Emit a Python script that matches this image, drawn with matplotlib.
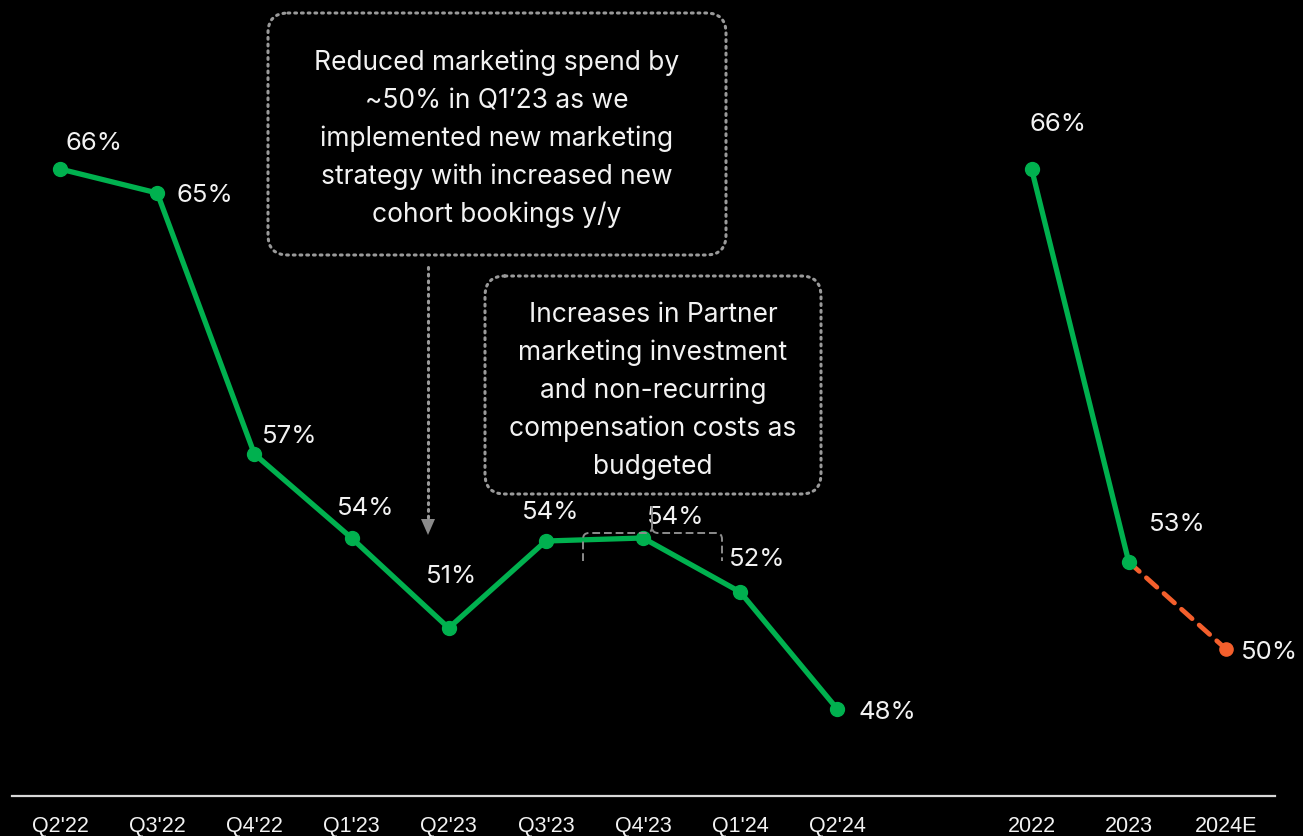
import matplotlib
matplotlib.use("Agg")
import matplotlib.pyplot as plt
from matplotlib import font_manager
from matplotlib.path import Path
from matplotlib.patches import FancyBboxPatch, PathPatch, Polygon

# ---------------- data ----------------
quarters = ["Q2'22", "Q3'22", "Q4'22", "Q1'23", "Q2'23", "Q3'23", "Q4'23", "Q1'24", "Q2'24"]
quarter_values = [66.0, 65.2, 56.5, 53.7, 50.7, 53.6, 53.7, 51.9, 48.0]
quarter_labels = ["66%", "65%", "57%", "54%", "51%", "54%", "54%", "52%", "48%"]

years = ["2022", "2023", "2024E"]
year_values = [66.0, 52.9, 50.0]
year_labels = ["66%", "53%", "50%"]

note1 = ["Reduced marketing spend by", "~50% in Q1\u201923 as we",
         "implemented new marketing", "strategy with increased new",
         "cohort bookings y/y"]
note2 = ["Increases in Partner", "marketing investment", "and non-recurring",
         "compensation costs as", "budgeted"]

# ---------------- style ----------------
GREEN = "#00b14f"
ORANGE = "#f45f2c"
TEXT = "#f2f2f2"
GRAY = "#9a9a9a"
W, H = 1303, 837

avail = {f.name for f in font_manager.fontManager.ttflist}
ann_font = "Inter" if "Inter" in avail else "DejaVu Sans"
tick_font, tick_size = "Liberation Sans", 15.5

fig = plt.figure(figsize=(W / 100, H / 100), dpi=100, facecolor="black")
ax = fig.add_axes([11.5 / W, 40 / H, 1263 / W, 1 - 40 / H])
ax.set_facecolor("black")

xq = list(range(len(quarters)))
xy = [len(quarters) + 1 + i for i in range(len(years))]

ax.plot(xq, quarter_values, color=GREEN, lw=3.8, marker="o", ms=10, zorder=3,
        solid_capstyle="round")
ax.plot(xy[:2], year_values[:2], color=GREEN, lw=3.8, marker="o", ms=10, zorder=3)
ax.plot(xy[1:], year_values[1:], color=ORANGE, lw=3.4, ls=(0, (3.0, 2.0)), zorder=2,
        dash_capstyle="round")
ax.plot([xy[2]], [year_values[2]], color=ORANGE, marker="o", ms=9.5, zorder=3)

ax.set_xlim(-0.5, 12.5)
ax.set_ylim(45.1, 71.667)

LBL = 18.5
q_off = [(34, 27), (48, -1), (35, 19), (14, 31), (3, 53), (5, 30), (33, 22), (17, 34), (50, -2)]
for x, v, lab, (dx, dy) in zip(xq, quarter_values, quarter_labels, q_off):
    ax.annotate(lab, (x, v), xytext=(dx, dy), textcoords="offset pixels",
                ha="center", va="center", color=TEXT, fontsize=LBL, family=ann_font)
y_off = [(26, 46), (49, 39), (44, -2)]
for x, v, lab, (dx, dy) in zip(xy, year_values, year_labels, y_off):
    ax.annotate(lab, (x, v), xytext=(dx, dy), textcoords="offset pixels",
                ha="center", va="center", color=TEXT, fontsize=LBL, family=ann_font)

ax.set_xticks(xq + xy)
ax.set_xticklabels(quarters + years, fontsize=tick_size, family=tick_font, color=TEXT)
ax.tick_params(axis="x", length=0, pad=14)
ax.set_yticks([])
for s in ["top", "left", "right"]:
    ax.spines[s].set_visible(False)
ax.spines["bottom"].set_color("#d8d8d8")
ax.spines["bottom"].set_linewidth(1.6)

# ---------------- overlay in pixel coordinates for annotations ----------------
ov = fig.add_axes([0, 0, 1, 1], facecolor="none")
ov.set_xlim(0, W)
ov.set_ylim(H, 0)
ov.axis("off")

def dotted_box(x0, y0, x1, y1):
    p = FancyBboxPatch((x0, y0), x1 - x0, y1 - y0,
                       boxstyle="round,pad=0,rounding_size=20",
                       fill=False, ec=GRAY, lw=2.2, ls=(0, (0.6, 1.6)),
                       capstyle="round")
    ov.add_patch(p)

NOTE = 19
dotted_box(268, 14, 726, 256)
for i, line in enumerate(note1):
    ov.text(497, 63 + i * 38, line, ha="center", va="center", color=TEXT,
            fontsize=NOTE, family=ann_font)

dotted_box(485, 277, 821, 495)
for i, line in enumerate(note2):
    ov.text(653, 315 + i * 38, line, ha="center", va="center", color=TEXT,
            fontsize=NOTE, family=ann_font)

# dotted arrow
ov.plot([428, 428], [268, 520], color=GRAY, lw=2.2, ls=(0, (0.6, 1.6)),
        dash_capstyle="round")
ov.add_patch(Polygon([[421, 520], [435, 520], [428, 536]], closed=True,
                     fc="#8a8a8a", ec="none"))

# bracket
bc = "#8c8c8c"
r = 6
codes = [Path.MOVETO, Path.LINETO, Path.CURVE3, Path.CURVE3,
         Path.LINETO, Path.CURVE3, Path.CURVE3, Path.LINETO]
verts_l = [(583, 562), (583, 534 + r), (583, 534), (583 + r, 534),
           (652 - r, 534), (652, 534), (652, 534 - r), (652, 507)]
ov.add_patch(PathPatch(Path(verts_l, codes), fill=False, ec=bc, lw=1.4, ls=(0, (4, 2))))
verts_r = [(652, 507), (652, 534 - r), (652, 534), (652 + r, 534),
           (722 - r, 534), (722, 534), (722, 534 + r), (722, 562)]
ov.add_patch(PathPatch(Path(verts_r, codes), fill=False, ec=bc, lw=1.4, ls=(0, (4, 2))))

fig.savefig("out.png", dpi=100, facecolor="black")
